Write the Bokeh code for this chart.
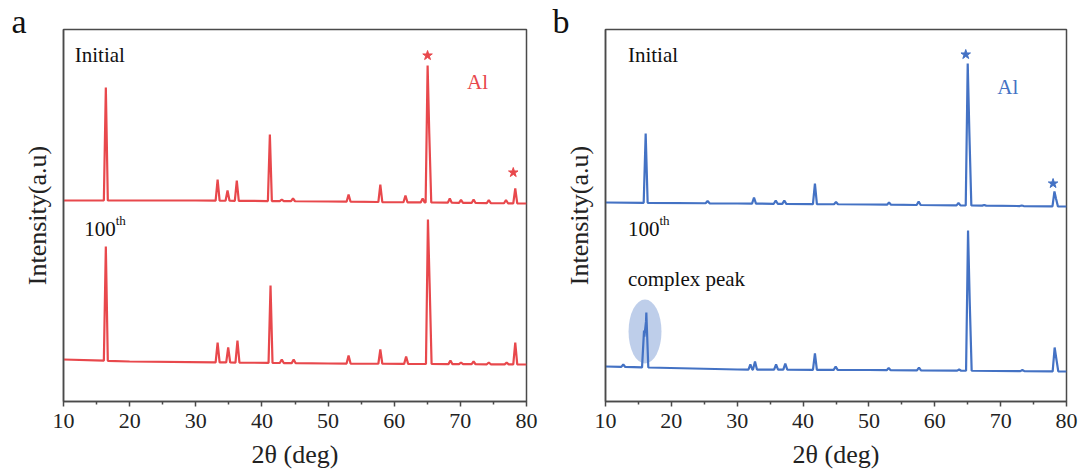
import numpy as np
from bokeh.plotting import figure
from bokeh.layouts import row
from bokeh.models import Range1d, FixedTicker, Label, Title
from bokeh.embed import file_html
from bokeh.resources import INLINE

# ---------------- data ----------------
x_ticks = [10, 20, 30, 40, 50, 60, 70, 80]
x_minor = [15, 25, 35, 45, 55, 65, 75]

# panel a (red) - initial
a_init_base_x = [10, 30, 50, 80]
a_init_base_y = [201, 201, 200, 198]
a_init_pos = [16.4, 33.3, 34.8, 36.2, 41.2, 43.0, 44.7, 53.1, 57.9, 61.7, 64.3,
              65.05, 65.3, 68.4, 70.1, 72.0, 74.3, 76.9, 78.3]
a_init_top = [314, 222, 211, 221, 267, 202, 203, 207, 217, 206, 203,
              336, 268, 203, 201.5, 202, 201.5, 201.5, 213]

# panel a (red) - 100th
a_100_base_x = [10, 20, 50, 80]
a_100_base_y = [42, 40, 38, 37]
a_100_pos = [16.4, 33.3, 34.9, 36.3, 41.3, 43.0, 44.8, 53.1, 57.9, 61.8,
             65.1, 65.35, 68.5, 70.1, 72.0, 74.3, 77.0, 78.3]
a_100_top = [155, 59, 54, 61, 116, 42, 42, 46, 52, 45,
             182, 118, 41, 39, 40, 39, 39, 59]

# panel b (blue) - initial
b_init_base_x = [10, 30, 50, 80]
b_init_base_y = [199, 198, 197, 195]
b_init_pos = [16.1, 25.5, 32.55, 35.85, 37.15, 41.8, 45.0, 53.05, 57.55, 63.6,
              65.0, 65.25, 67.5, 73.2, 78.17, 78.4]
b_init_top = [268, 200.5, 204, 201, 201, 218, 199.5, 199, 200, 198.5,
              338, 269, 196.5, 196, 210, 203]

# panel b (blue) - 100th
b_100_base_x = [10, 30, 50, 80]
b_100_base_y = [35, 32, 31.5, 30]
b_100_pos = [12.7, 15.85, 16.2, 32.0, 32.7, 35.9, 37.3, 41.8, 44.95, 53.0, 57.6,
             63.7, 65.05, 65.3, 73.3, 78.2, 78.45]
b_100_top = [37, 71, 89, 37, 40, 37, 38, 48, 35, 33.5, 34,
             32, 171, 101, 31.5, 54, 43]

# star markers (Al reflections)
a_star_x = [65.04, 78.0]
a_star_y = [346, 229]
b_star_x = [64.7, 77.96]
b_star_y = [347, 218]

# highlighted "complex peak" region
b_ell_x = [16.0]
b_ell_y = [70]
b_ell_w = [5.0]
b_ell_h = [64]

RED = "#e8484c"
BLUE = "#4472c4"
FONT = "Times New Roman, Liberation Serif, serif"
HALF_W = 0.3


def trace(base_x, base_y, pos, top):
    """Poly-line through the read baseline and peak apexes."""
    pos = np.asarray(pos, float)
    top = np.asarray(top, float)
    xs = set(base_x)
    for p0 in pos:
        xs.update([p0 - HALF_W, p0, p0 + HALF_W])
    xs = np.array(sorted(x for x in xs if 10 <= x <= 80))
    base = np.interp(xs, base_x, base_y)
    ys = base.copy()
    for p0, t in zip(pos, top):
        b0 = np.interp(p0, base_x, base_y)
        tri = t - (t - b0) * np.abs(xs - p0) / HALF_W
        ys = np.maximum(ys, np.where(np.abs(xs - p0) <= HALF_W, tri, -1e9))
    return xs, ys


def make_fig(width, left, right, color, traces, star_x, star_y, letter,
             letter_off, init_x, hund_x, th_x, al_x, al_y):
    p = figure(width=width, height=473, output_backend="svg",
               toolbar_location=None, x_range=Range1d(10, 80),
               y_range=Range1d(0, 372), min_border_left=left,
               min_border_right=right, min_border_top=29,
               min_border_bottom=72)
    p.xgrid.visible = False
    p.ygrid.visible = False
    p.outline_line_color = "#4a4a4a"
    p.outline_line_width = 1.5
    p.outline_line_alpha = 1.0
    p.background_fill_color = "white"
    p.border_fill_color = "white"

    ax = p.xaxis[0]
    ax.ticker = FixedTicker(ticks=x_ticks, minor_ticks=x_minor)
    ax.axis_line_color = "#4a4a4a"
    ax.axis_line_width = 1.5
    ax.major_tick_line_color = "#4a4a4a"
    ax.minor_tick_line_color = "#4a4a4a"
    ax.major_tick_line_width = 1.5
    ax.minor_tick_line_width = 1.5
    ax.major_tick_in = 0
    ax.major_tick_out = 5
    ax.minor_tick_in = 0
    ax.minor_tick_out = 3
    ax.major_label_text_font = FONT
    ax.major_label_text_font_size = "22px"
    ax.major_label_text_color = "#222222"
    ax.major_label_standoff = 7
    ax.axis_label = "2θ (deg)"
    ax.axis_label_text_font = FONT
    ax.axis_label_text_font_size = "26px"
    ax.axis_label_text_font_style = "normal"
    ax.axis_label_text_color = "#222222"
    ax.axis_label_standoff = 9

    ay = p.yaxis[0]
    ay.ticker = FixedTicker(ticks=[])
    ay.axis_line_color = "#4a4a4a"
    ay.axis_line_width = 1.5
    ay.major_tick_out = 0
    ay.minor_tick_out = 0
    ay.major_label_text_font_size = "0px"
    ay.axis_label = "Intensity(a.u)"
    ay.axis_label_text_font = FONT
    ay.axis_label_text_font_size = "26px"
    ay.axis_label_text_font_style = "normal"
    ay.axis_label_text_color = "#222222"
    ay.axis_label_standoff = 12

    for (bx, by, ps, ts) in traces:
        xs, ys = trace(bx, by, ps, ts)
        p.line(xs, ys, line_color=color, line_width=2.2)

    p.scatter(star_x, star_y, marker="star", size=10, fill_color=color,
              line_color=color)

    def lab(x, y, text, size, col="#111111"):
        p.add_layout(Label(x=x, y=y, text=text, text_font=FONT,
                           text_font_size=size, text_color=col,
                           text_baseline="alphabetic", text_align="left"))

    lab(init_x, 347, "Initial", "21px")
    lab(al_x, al_y, "Al", "21px", color)
    lab(hund_x, 173, "100", "21px")
    lab(th_x, 181, "th", "13px")

    # panel letter, drawn as a title that hangs left of the frame
    p.add_layout(Title(text=letter, align="left", offset=letter_off,
                       standoff=-21, text_font=FONT, text_font_size="34px",
                       text_font_style="normal", text_color="#111111"),
                 "above")
    return p


pa = make_fig(546, 63, 20, RED,
              [(a_init_base_x, a_init_base_y, a_init_pos, a_init_top),
               (a_100_base_x, a_100_base_y, a_100_pos, a_100_top)],
              a_star_x, a_star_y, "a", -52, 11.7, 13.13, 17.9, 71.0, 320)

pb = make_fig(537, 59, 17, BLUE,
              [(b_init_base_x, b_init_base_y, b_init_pos, b_init_top),
               (b_100_base_x, b_100_base_y, b_100_pos, b_100_top)],
              b_star_x, b_star_y, "b", -53, 13.4, 13.4, 18.2, 69.5, 315)

pb.ellipse(x=b_ell_x, y=b_ell_y, width=b_ell_w, height=b_ell_h,
           fill_color=BLUE, fill_alpha=0.35, line_color=None, level="underlay")
pb.add_layout(Label(x=13.4, y=123, text="complex peak", text_font=FONT,
                    text_font_size="21px", text_color="#111111",
                    text_baseline="alphabetic"))

layout = row(pa, pb)
open("out.html", "w").write(file_html(layout, INLINE))
